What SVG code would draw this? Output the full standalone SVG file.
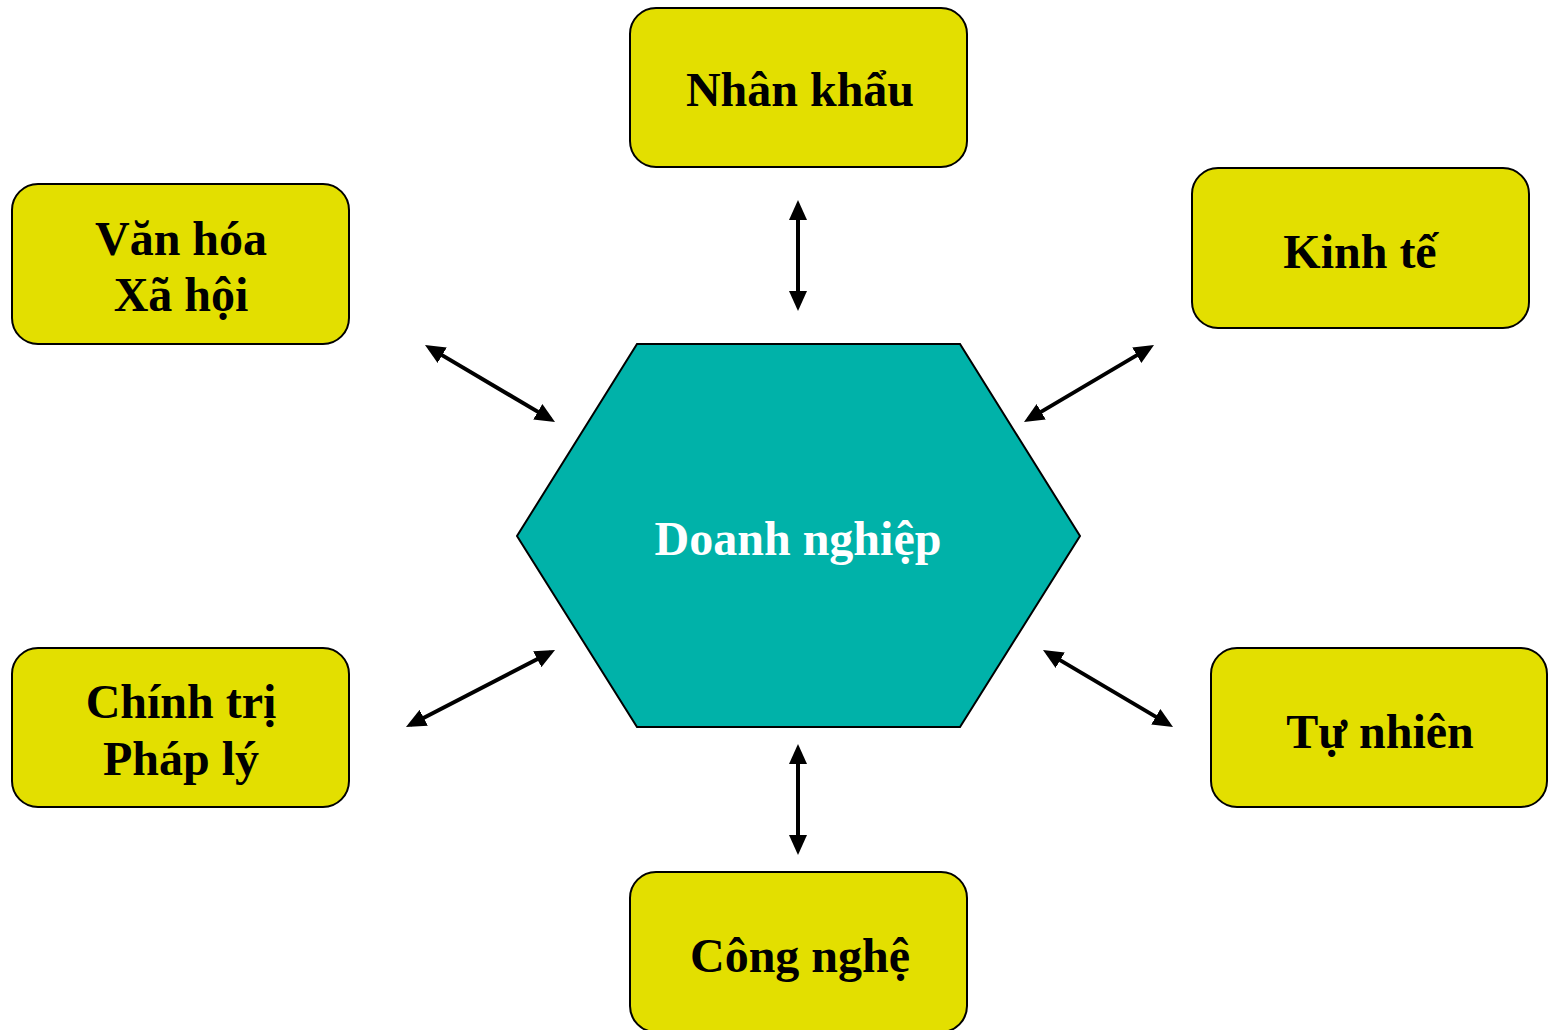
<svg xmlns="http://www.w3.org/2000/svg" width="1548" height="1030" viewBox="0 0 1548 1030">
  <style>
    .box { fill: #E3DF00; stroke: #000; stroke-width: 2; }
    .hex { fill: #00B2A9; stroke: #000; stroke-width: 2; }
    .lbl { font-family: "Liberation Serif", "Times New Roman", serif; font-weight: bold; font-size: 48px; fill: #000; text-anchor: middle; }
    .core { font-family: "Liberation Serif", "Times New Roman", serif; font-weight: bold; font-size: 48px; fill: #fff; text-anchor: middle; }
    .link { stroke: #000; stroke-width: 4; fill: none; marker-start: url(#head); marker-end: url(#head); }
  </style>
  <defs>
    <!-- tip sits 5px beyond each line end so the stroke stays hidden under the head -->
    <marker id="head" viewBox="0 0 20 18" refX="15" refY="9" markerWidth="20" markerHeight="18" markerUnits="userSpaceOnUse" orient="auto-start-reverse">
      <path d="M0,0 L20,9 L0,18 Z" fill="#000"/>
    </marker>
  </defs>

  <rect width="1548" height="1030" fill="#fff"/>

  <!-- central hexagon -->
  <g id="doanh-nghiep">
    <polygon class="hex" points="637,344 960,344 1080,536 960,727 637,727 517,536"/>
    <text class="core" x="798" y="555">Doanh nghiệp</text>
  </g>

  <g id="nhan-khau">
    <rect class="box" x="630" y="8" width="337" height="159" rx="26"/>
    <text class="lbl" x="800" y="106">Nhân khẩu</text>
  </g>

  <g id="van-hoa-xa-hoi">
    <rect class="box" x="12" y="184" width="337" height="160" rx="26"/>
    <text class="lbl" x="181" y="255">Văn hóa</text>
    <text class="lbl" x="181" y="311">Xã hội</text>
  </g>

  <g id="kinh-te">
    <rect class="box" x="1192" y="168" width="337" height="160" rx="26"/>
    <text class="lbl" x="1360" y="268">Kinh tế</text>
  </g>

  <g id="chinh-tri-phap-ly">
    <rect class="box" x="12" y="648" width="337" height="159" rx="26"/>
    <text class="lbl" x="181" y="718">Chính trị</text>
    <text class="lbl" x="181" y="775">Pháp lý</text>
  </g>

  <g id="tu-nhien">
    <rect class="box" x="1211" y="648" width="336" height="159" rx="26"/>
    <text class="lbl" x="1380" y="748">Tự nhiên</text>
  </g>

  <g id="cong-nghe">
    <rect class="box" x="630" y="872" width="337" height="160" rx="26"/>
    <text class="lbl" x="800" y="972">Công nghệ</text>
  </g>

  <!-- two-way links between the hexagon and each factor -->
  <g id="connectors">
    <line class="link" x1="798" y1="205" x2="798" y2="306"/>
    <line class="link" x1="798" y1="749" x2="798" y2="850"/>
    <line class="link" x1="429.3" y1="347.6" x2="550.7" y2="419.4"/>
    <line class="link" x1="1149.7" y1="347.6" x2="1028.3" y2="419.4"/>
    <line class="link" x1="410.4" y1="724.7" x2="550.6" y2="652.3"/>
    <line class="link" x1="1047.3" y1="652.6" x2="1168.7" y2="724.4"/>
  </g>
</svg>
